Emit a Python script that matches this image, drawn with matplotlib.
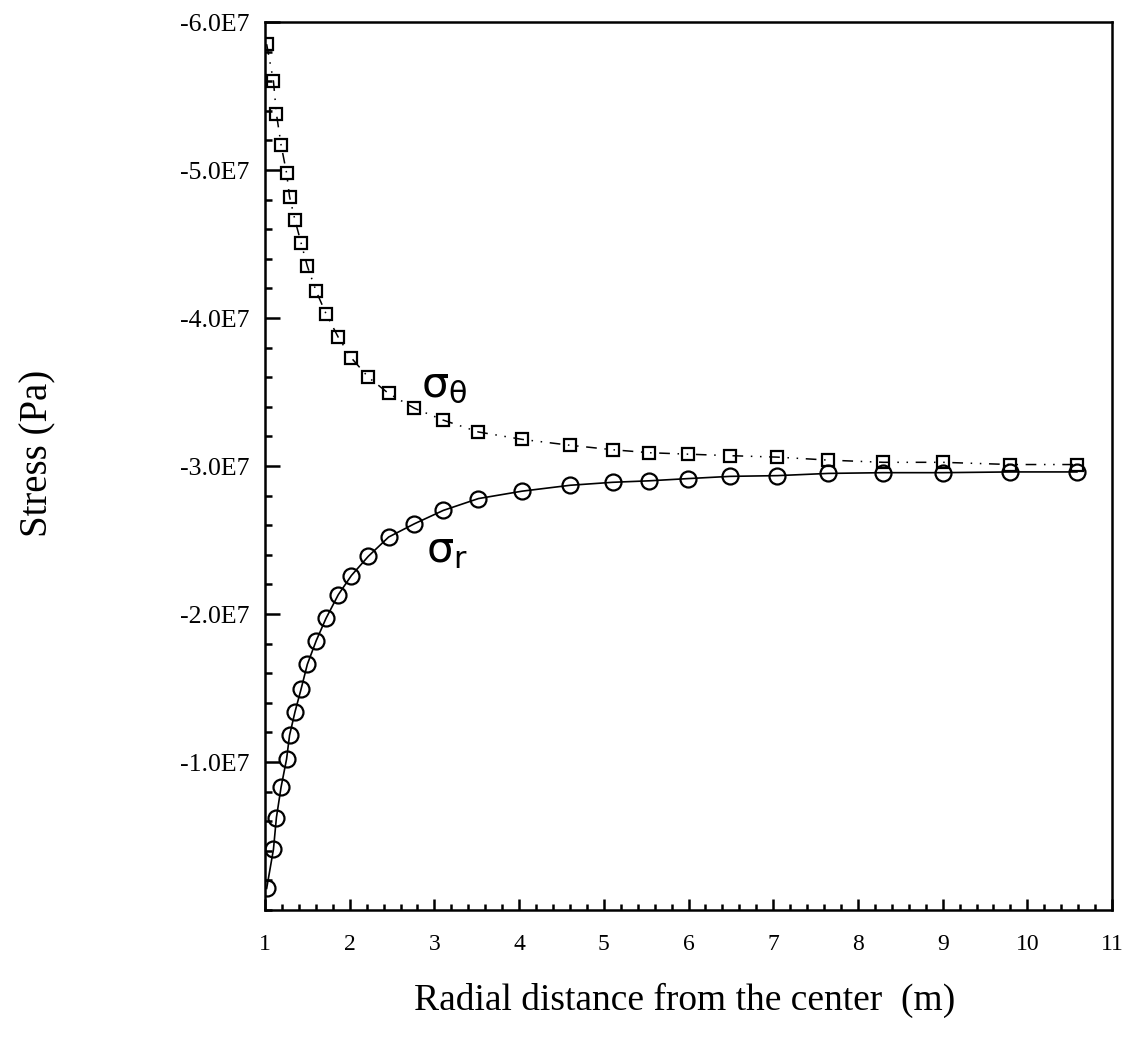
import matplotlib
matplotlib.use("Agg")
import matplotlib.pyplot as plt
from matplotlib.ticker import MultipleLocator, FixedLocator, FuncFormatter

# radial positions of the grid points (m)
radius = [1.02, 1.10, 1.135, 1.19, 1.255, 1.29, 1.355, 1.425, 1.50, 1.605,
          1.72, 1.865, 2.02, 2.22, 2.46, 2.765, 3.105, 3.52, 4.035, 4.605,
          5.105, 5.535, 5.995, 6.49, 7.05, 7.65, 8.30, 9.00, 9.80, 10.585]

# stresses in units of 1E7 Pa (compression negative)
sigma_r = [-0.146, -0.41, -0.625, -0.83, -1.02, -1.18, -1.34, -1.49, -1.66, -1.82,
           -1.97, -2.13, -2.26, -2.39, -2.52, -2.61, -2.70, -2.78, -2.83, -2.87,
           -2.89, -2.90, -2.915, -2.93, -2.935, -2.95, -2.955, -2.955, -2.96, -2.96]
sigma_t = [-5.85, -5.60, -5.38, -5.17, -4.98, -4.82, -4.66, -4.51, -4.35, -4.18,
           -4.03, -3.87, -3.73, -3.60, -3.49, -3.39, -3.31, -3.23, -3.18, -3.14,
           -3.11, -3.09, -3.08, -3.07, -3.06, -3.04, -3.025, -3.025, -3.01, -3.01]

x_ticks = [1, 2, 3, 4, 5, 6, 7, 8, 9, 10, 11]
y_ticks = [-1e7, -2e7, -3e7, -4e7, -5e7, -6e7]

serif = "Liberation Serif"
plt.rcParams["mathtext.default"] = "regular"

fig = plt.figure(figsize=(11.29, 10.43), dpi=100)
ax = fig.add_axes([0.2347, 0.1275, 0.7503, 0.8514])

ax.plot(radius, [v * 1e7 for v in sigma_r], color="black", lw=1.2, ls="-",
        marker="o", ms=11.5, mfc="none", mec="black", mew=1.6)
ax.plot(radius, [v * 1e7 for v in sigma_t], color="black", lw=1.1,
        ls=(0, (7, 5, 1, 5, 1, 5)),
        marker="s", ms=9, mfc="none", mec="black", mew=1.6)

# curve labels
ax.text(3.12, -3.55e7, r"$\sigma_\theta$", fontsize=31, ha="center", va="center")
ax.text(3.15, -2.43e7, r"$\sigma_r$", fontsize=31, ha="center", va="center")

ax.set_xlim(1, 11)
ax.set_ylim(0, -6e7)

ax.xaxis.set_major_locator(FixedLocator(x_ticks))
ax.xaxis.set_minor_locator(MultipleLocator(0.2))
ax.yaxis.set_major_locator(FixedLocator(y_ticks))
ax.yaxis.set_minor_locator(MultipleLocator(2e6))
ax.yaxis.set_major_formatter(FuncFormatter(lambda v, p: "-%.1fE7" % (abs(v) / 1e7)))

ax.tick_params(axis="both", which="both", direction="in", top=False, right=False,
               width=1.8, colors="black")
ax.tick_params(axis="y", which="major", length=11, pad=11, labelsize=18.5)
ax.tick_params(axis="y", which="minor", length=5)
ax.tick_params(axis="x", which="major", length=8, pad=17, labelsize=17)
ax.tick_params(axis="x", which="minor", length=4)
for lab in ax.get_xticklabels() + ax.get_yticklabels():
    lab.set_family(serif)

for s in ax.spines.values():
    s.set_linewidth(1.8)

fig.text(0.606, 0.041, "Radial distance from the center  (m)", family=serif,
         fontsize=27, ha="center", va="center")
fig.text(0.034, 0.565, "Stress (Pa)", family=serif, fontsize=28, rotation=90,
         ha="center", va="center")

fig.savefig("out.png", dpi=100)
